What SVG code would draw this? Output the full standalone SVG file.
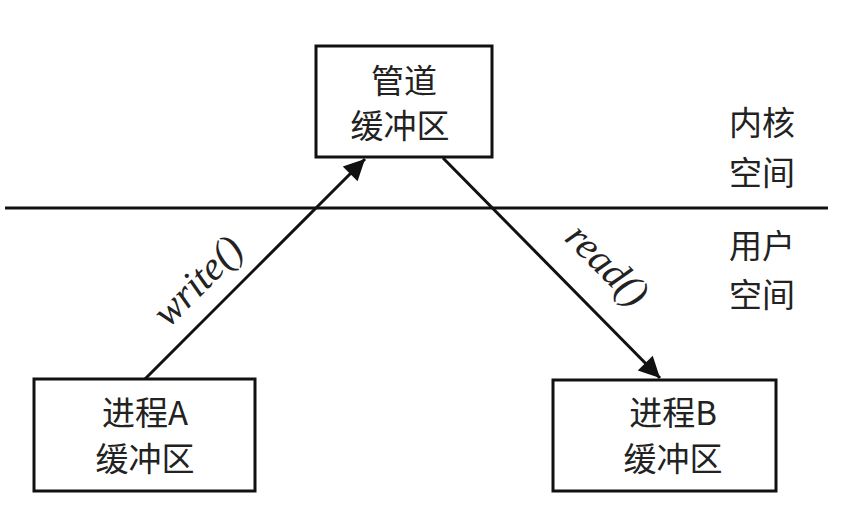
<svg xmlns="http://www.w3.org/2000/svg" width="857" height="507" viewBox="0 0 857 507">
<style>
.box{fill:#fff;stroke:#111;stroke-width:3}
.t{font-family:"Noto Sans CJK SC","Liberation Serif",sans-serif;font-size:33px;fill:#222;text-anchor:middle}
.lbl{font-family:"Liberation Serif",serif;font-style:italic;font-size:40px;fill:#222;text-anchor:middle}
.c{stroke:#111;stroke-width:3;fill:none}
</style>
<defs>
<marker id="ah" viewBox="0 0 10 10" refX="10" refY="5" markerWidth="9" markerHeight="7" markerUnits="strokeWidth" orient="auto">
<path d="M0,0 L10,5 L0,10 z" fill="#111"/>
</marker>
</defs>
<rect width="857" height="507" fill="#fff"/>
<g id="divider">
<line x1="5" y1="208" x2="828" y2="208" stroke="#111" stroke-width="3"/>
</g>
<g id="connectors">
<line class="c" x1="145" y1="379" x2="365" y2="159" marker-end="url(#ah)"/>
<line class="c" x1="443" y1="158" x2="660" y2="378" marker-end="url(#ah)"/>
<text class="lbl" transform="translate(207,290) rotate(-45)">write()</text>
<text class="lbl" transform="translate(598,274) rotate(45)">read()</text>
</g>
<g id="pipe">
<rect class="box" x="316" y="46" width="176" height="111"/>
<text class="t" x="404" y="93">管道</text>
<text class="t" x="400" y="138">缓冲区</text>
</g>
<g id="procA">
<rect class="box" x="34" y="379" width="221" height="112"/>
<text class="t" x="145" y="425">进程A</text>
<text class="t" x="145" y="471">缓冲区</text>
</g>
<g id="procB">
<rect class="box" x="553" y="380" width="223" height="111"/>
<text class="t" x="673" y="425">进程B</text>
<text class="t" x="673" y="471">缓冲区</text>
</g>
<g id="kernel">
<text class="t" x="762" y="135">内核</text>
<text class="t" x="762" y="185">空间</text>
</g>
<g id="user">
<text class="t" x="762" y="258">用户</text>
<text class="t" x="762" y="307">空间</text>
</g>
</svg>
